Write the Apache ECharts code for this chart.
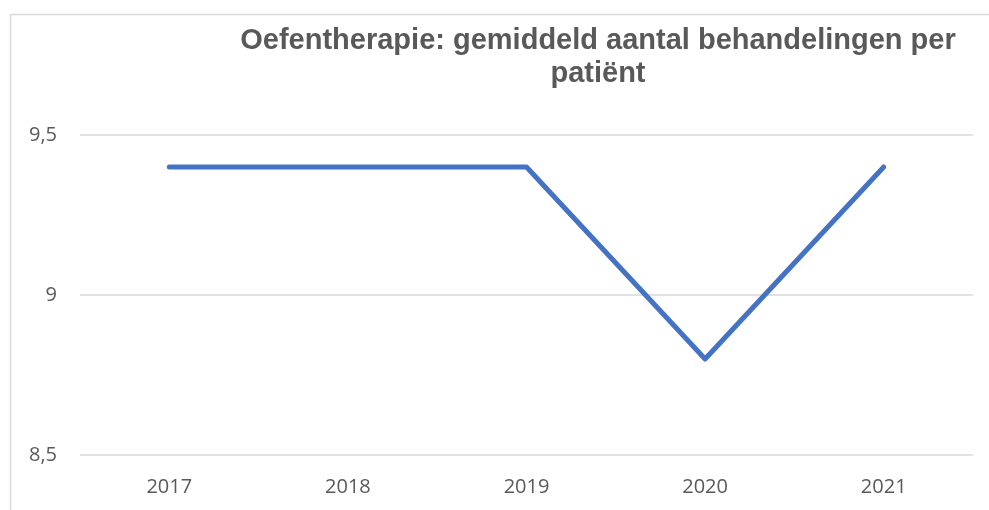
<!DOCTYPE html>
<html>
<head>
<meta charset="utf-8">
<script src="https://cdn.jsdelivr.net/npm/echarts@6/dist/echarts.min.js"></script>
<style>
  html, body { margin: 0; padding: 0; background: #fff; }
  #Chart { width: 989px; height: 510px; }
</style>
</head>
<body>
<div id="Chart"></div>
<script>
var years = ['2017', '2018', '2019', '2020', '2021'];
var behandelingen = [9.4, 9.4, 9.4, 8.8, 9.4];
var yTicks = { min: 8.5, max: 9.5, interval: 0.5 };

var myChart = echarts.init(document.getElementById('Chart'));
var option = {
  animation: false,
  graphic: [{
    type: 'rect',
    shape: { x: 10.5, y: 14.5, width: 1200, height: 800 },
    style: { fill: 'none', stroke: '#d9d9d9', lineWidth: 1.5 },
    silent: true
  }],
  title: {
    text: 'Oefentherapie: gemiddeld aantal behandelingen per\npatiënt',
    left: 593,
    top: 19,
    textAlign: 'center',
    textStyle: {
      fontFamily: 'Liberation Sans, Arial, sans-serif',
      fontWeight: 'bold',
      fontSize: 29,
      lineHeight: 33,
      color: '#595959'
    }
  },
  grid: {
    left: 80,
    right: 16,
    top: 135,
    bottom: 55
  },
  xAxis: {
    type: 'category',
    data: years,
    boundaryGap: true,
    axisLine: { show: false },
    axisTick: { show: false },
    axisLabel: {
      color: '#595959',
      fontSize: 20,
      fontFamily: 'Open Sans, sans-serif',
      margin: 22
    }
  },
  yAxis: {
    type: 'value',
    min: yTicks.min,
    max: yTicks.max,
    interval: yTicks.interval,
    axisLine: { show: false },
    axisTick: { show: false },
    axisLabel: {
      color: '#595959',
      fontSize: 20,
      fontFamily: 'Open Sans, sans-serif',
      margin: 23,
      formatter: function (v) {
        return String(v).replace('.', ',');
      }
    },
    splitLine: {
      lineStyle: { color: '#d9d9d9', width: 1.5 }
    }
  },
  series: [{
    name: 'Oefentherapie',
    type: 'line',
    data: behandelingen,
    symbol: 'none',
    lineStyle: { color: '#4472c4', width: 5, cap: 'round', join: 'round' }
  }]
};
myChart.setOption(option);
</script>
</body>
</html>
